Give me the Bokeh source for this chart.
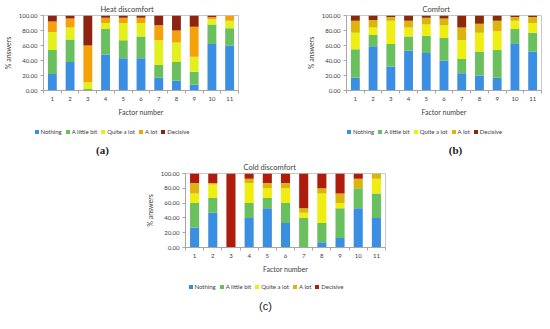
from bokeh.plotting import figure
from bokeh.models import (Legend, LegendItem, Label, FixedTicker, NumeralTickFormatter,
                          Range1d, Spacer)
from bokeh.layouts import column, row
from bokeh.embed import file_html
from bokeh.resources import INLINE

factors = [1, 2, 3, 4, 5, 6, 7, 8, 9, 10, 11]
answers = ["Nothing", "A little bit", "Quite a lot", "A lot", "Decisive"]
y_ticks = [0, 20, 40, 60, 80, 100]

# (a) Heat discomfort
heat_nothing = [22, 38, 0, 48, 43, 43, 17, 13, 8, 62, 60]
heat_little = [32, 30, 2, 34, 24, 29, 17, 25, 17, 26, 23]
heat_quite = [24, 16, 9, 8, 23, 18, 33, 26, 20, 7, 10]
heat_alot = [14, 12, 49, 7, 7, 7, 20, 16, 40, 3, 7]
heat_decisive = [8, 4, 40, 3, 3, 3, 13, 20, 15, 2, 0]

# (b) Comfort
comf_nothing = [17, 59, 32, 53, 50, 40, 23, 20, 17, 63, 52]
comf_little = [38, 15, 30, 19, 23, 30, 19, 32, 37, 19, 25]
comf_quite = [22, 10, 31, 12, 15, 17, 25, 25, 25, 11, 13]
comf_alot = [16, 10, 5, 9, 9, 9, 17, 12, 14, 5, 8]
comf_decisive = [7, 6, 2, 7, 3, 4, 16, 11, 7, 2, 2]

# (c) Cold discomfort
cold_nothing = [27, 47, 0, 40, 53, 33, 0, 7, 13, 53, 40]
cold_little = [33, 20, 0, 20, 14, 27, 40, 26, 40, 27, 33]
cold_quite = [13, 18, 0, 27, 13, 20, 7, 40, 7, 0, 20]
cold_alot = [14, 2, 0, 6, 7, 7, 6, 7, 13, 13, 7]
cold_decisive = [13, 13, 100, 7, 13, 13, 47, 20, 27, 7, 0]

FONT = "Lato"
TXT = "#404040"


def chart(title, series, colors, fw, fh, bl, br, bt, bb, title_offset):
    p = figure(frame_width=fw, frame_height=fh, output_backend="svg",
               toolbar_location=None,
               x_range=Range1d(0.5, 11.5), y_range=Range1d(0, 100),
               min_border_left=bl, min_border_right=br, min_border_top=bt,
               min_border_bottom=bb)
    src = {"x": factors}
    for name, vals in zip(answers, series):
        src[name] = vals
    p.vbar_stack(answers, x="x", width=0.5, color=colors, source=src, line_color=None)
    p.title.text = title
    p.title.align = "left"
    p.title.offset = title_offset
    p.title.text_font = FONT
    p.title.text_font_size = "7.5px"
    p.title.text_font_style = "normal"
    p.title.text_color = TXT
    p.title.standoff = 3

    p.xgrid.grid_line_color = None
    p.ygrid.grid_line_color = None
    p.outline_line_color = "#c8c8c8"

    xa = p.xaxis[0]
    xa.ticker = FixedTicker(ticks=factors,
                            minor_ticks=[f - 0.5 for f in factors] + [factors[-1] + 0.5])
    xa.major_tick_out = 0
    xa.major_tick_in = 0
    xa.minor_tick_out = 3
    xa.minor_tick_in = 0
    xa.axis_label = "Factor number"
    ya = p.yaxis[0]
    ya.ticker = FixedTicker(ticks=y_ticks)
    ya.formatter = NumeralTickFormatter(format="0.00")
    ya.major_tick_out = 3
    ya.major_tick_in = 0
    ya.minor_tick_out = 0
    ya.minor_tick_in = 0
    ya.axis_label = "% answers"
    for ax in (xa, ya):
        ax.axis_line_color = "#a6a6a6"
        ax.major_tick_line_color = "#a6a6a6"
        ax.minor_tick_line_color = "#a6a6a6"
        ax.major_label_text_font = FONT
        ax.major_label_text_font_size = "6px"
        ax.major_label_text_color = TXT
        ax.major_label_standoff = 3
        ax.axis_label_text_font = FONT
        ax.axis_label_text_font_size = "7px"
        ax.axis_label_text_font_style = "normal"
        ax.axis_label_text_color = TXT
        ax.axis_label_standoff = 4
    return p


def legend_box(caption, colors, w, h, leg_margin, cap_x, cap_y, cap_font, cap_style):
    lf = figure(width=w, height=h, output_backend="svg", toolbar_location=None,
                x_range=Range1d(0, w), y_range=Range1d(0, h),
                x_axis_location=None, y_axis_location=None,
                min_border=0, min_border_left=0, min_border_right=0,
                min_border_top=0, min_border_bottom=0)
    lf.xgrid.grid_line_color = None
    lf.ygrid.grid_line_color = None
    lf.outline_line_color = None
    items = []
    for a, c in zip(answers, colors):
        # legend proxy: a single empty (NaN) bar so the swatch gets its colour
        r = lf.vbar(x=[float("nan")], top=[float("nan")], width=1, color=c,
                    line_color=None)
        items.append(LegendItem(label=a, renderers=[r]))
    legend = Legend(items=items, orientation="horizontal", location="top_center",
                    label_text_font=FONT, label_text_font_size="6px",
                    label_text_color=TXT, glyph_width=5, glyph_height=5,
                    label_height=6, label_width=10, label_standoff=2, spacing=3,
                    padding=0, margin=leg_margin, border_line_color=None,
                    background_fill_alpha=0)
    lf.add_layout(legend, "center")
    lf.add_layout(Label(x=cap_x, y=cap_y, text=caption, text_align="center",
                        text_baseline="middle", text_font=cap_font,
                        text_font_style=cap_style, text_font_size="11px",
                        text_color="#222222"))
    return lf


col_a = ["#3b8fe3", "#6abf5e", "#e3f01e", "#f5a20a", "#8e2410"]
col_b = ["#3b8fe3", "#6abf5e", "#eeee11", "#dcb40e", "#8b2a0a"]
col_c = ["#3b8fe3", "#6abf5e", "#eeee11", "#dcb40e", "#b01c0c"]

pa = chart("Heat discomfort",
           [heat_nothing, heat_little, heat_quite, heat_alot, heat_decisive],
           col_a, 195, 75, 34, 38, 15, 28, 57)
la = legend_box("(a)", col_a, 221, 38, 10, 101, 7, "Liberation Serif", "bold")

pb = chart("Comfort",
           [comf_nothing, comf_little, comf_quite, comf_alot, comf_decisive],
           col_b, 195, 75, 70, 2, 15, 28, 76)
lb = legend_box("(b)", col_b, 230, 38, 10, 146, 7, "Liberation Serif", "bold")

pc = chart("Cold discomfort",
           [cold_nothing, cold_little, cold_quite, cold_alot, cold_decisive],
           col_c, 200, 74, 42, 18, 17, 28, 58)
lc = legend_box("(c)", col_c, 245, 37, 8, 122, 7, "Liberation Sans", "normal")

top_a = column(pa, row(Spacer(width=1, height=10), la))
top_b = column(pb, row(Spacer(width=33, height=10), lb))
bottom_c = column(pc, row(Spacer(width=1, height=10), lc))
layout = column(row(top_a, top_b),
                row(Spacer(width=142, height=10), bottom_c))

with open("out.html", "w") as f:
    f.write(file_html(layout, INLINE))
